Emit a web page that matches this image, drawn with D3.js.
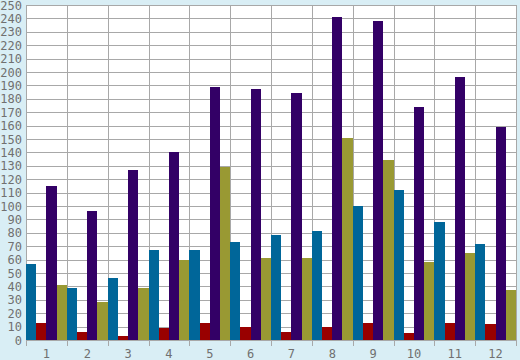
<!DOCTYPE html>
<html><head><meta charset="utf-8">
<script src="https://cdn.jsdelivr.net/npm/d3@7"></script>
<style>html,body{margin:0;padding:0;background:#d9eef5;}svg{display:block;}</style>
</head><body>
<svg id="c" width="520" height="360"></svg>
<script>
const categories = ["1","2","3","4","5","6","7","8","9","10","11","12"];
const seriesNames = ["blue","red","purple","olive"];
const blueValues   = [57,39,46,67,67,73,78,81,100,112,88,72];
const redValues    = [13,6,3,9,13,10,6,10,13,5,13,12];
const purpleValues = [115,96,127,140,189,187,184,241,238,174,196,159];
const oliveValues  = [41,28,39,60,129,61,61,151,134,58,65,37];
const yTicks = d3.range(0, 251, 10);
const colors = ["#006699","#990000","#330066","#999933"];
const series = [blueValues, redValues, purpleValues, oliveValues];

const svg = d3.select("#c");
const mLeft = 26, mRight = 516, mTop = 5, mBottom = 340;
const x = d3.scaleBand().domain(categories).range([mLeft, mRight]).padding(0);
const xs = d3.scaleBand().domain(seriesNames).range([0, x.bandwidth()]).padding(0);
const y = d3.scaleLinear().domain([0, 250]).range([mBottom, mTop]);

svg.append("rect").attr("x", mLeft).attr("y", mTop).attr("width", mRight-mLeft).attr("height", mBottom-mTop).attr("fill", "#ffffff");

const g = svg.append("g").attr("shape-rendering","crispEdges");
g.append("g").selectAll("line").data(yTicks).join("line")
  .attr("x1", mLeft).attr("x2", mRight)
  .attr("y1", d => Math.round(y(d))+0.5).attr("y2", d => Math.round(y(d))+0.5)
  .attr("stroke", "#a8a8a8");
const bounds = categories.map(c => x(c)).concat([mRight]);
g.append("g").selectAll("line").data(bounds).join("line")
  .attr("x1", d => Math.round(d)+0.5).attr("x2", d => Math.round(d)+0.5)
  .attr("y1", mTop).attr("y2", mBottom + 6)
  .attr("stroke", "#a8a8a8");

series.forEach((vals, si) => {
  g.append("g").selectAll("rect").data(vals).join("rect")
    .attr("x", (d,i) => x(categories[i]) + xs(seriesNames[si]))
    .attr("width", xs.bandwidth())
    .attr("y", d => y(d))
    .attr("height", d => y(0) - y(d))
    .attr("fill", colors[si]);
});

svg.append("g").selectAll("text").data(yTicks).join("text")
  .attr("x", 22).attr("y", d => y(d) + 4.5)
  .attr("text-anchor", "end")
  .attr("font-family", "DejaVu Sans Mono, monospace").attr("font-size", 12)
  .attr("fill", "#707070")
  .text(d => d);

svg.append("g").selectAll("text").data(categories).join("text")
  .attr("x", d => x(d) + x.bandwidth()/2).attr("y", 358)
  .attr("text-anchor", "middle")
  .attr("font-family", "DejaVu Sans Mono, monospace").attr("font-size", 12)
  .attr("fill", "#707070")
  .text(d => d);
</script>
</body></html>
